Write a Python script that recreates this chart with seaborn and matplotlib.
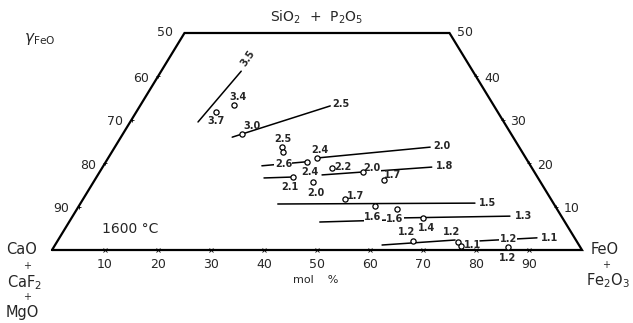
import numpy as np
import pandas as pd
import matplotlib
matplotlib.use("Agg")
import matplotlib.pyplot as plt
import seaborn as sns

# ---------------- data (compositions in mol %) ----------------
# measured points: FeO(+Fe2O3) %, SiO2(+P2O5) %, gamma label
pt_feo = [15.0, 17.6, 22.5, 31.5, 32.3, 38.0, 39.4, 37.1, 41.4, 43.4,
          49.7, 54.6, 49.4, 55.9, 60.4, 66.3, 67.1, 75.7, 76.7, 85.7]
pt_sio2 = [31.8, 33.4, 26.7, 23.7, 22.6, 20.3, 21.2, 16.8, 15.7, 18.9,
           18.0, 16.1, 11.8, 10.1, 9.4, 7.4, 2.1, 1.8, 0.9, 0.7]
pt_gamma = ["3.7", "3.4", "3.0", "2.5", "", "2.4", "2.4", "2.1", "2.0", "2.2",
            "2.0", "1.7", "1.7", "1.6", "1.6", "1.4", "1.2", "1.2", "1.1", "1.2"]

# iso-gamma lines
line_end_label = ["3.5", "2.5", "2.0", "", "1.8", "", "1.5", "", "1.3", "", "1.1"]
line_mid_label = ["", "", "", "2.6", "", "", "", "", "", "", "1.2"]
line_feo_start = [12.8, 21.0, 39.4, 29.9, 42.3, 31.7, 37.3, 47.3, 62.5, 61.7, 79.7]
line_sio2_start = [29.5, 26.0, 21.2, 19.4, 17.3, 16.6, 10.6, 6.45, 7.4, 1.15, 2.1]
line_feo_end = [15.1, 35.9, 59.5, 37.6, 62.1, 36.7, 74.4, 59.9, 82.5, 74.9, 90.1]
line_sio2_end = [41.2, 33.2, 23.7, 20.3, 19.1, 16.8, 10.8, 6.9, 7.8, 2.3, 2.8]

bottom_ticks = [10, 20, 30, 40, 50, 60, 70, 80, 90]
left_ticks = [60, 70, 80, 90]      # CaO content along left edge
right_ticks = [40, 30, 20, 10]     # SiO2 content along right edge

# ---------------- layout ----------------
pt_offsets = [(0, -9), (4, 8), (10, 8), (1, 8), (0, 0), (3, -10), (3, 8), (-3, -10),
              (3, -11), (11, 1), (9, 4), (9, 5), (10, 3), (-2, -11), (-2, -10),
              (4, -10), (-7, 9), (-6, 10), (12, 1), (-1, -11)]
pt_gap = [10, 13, 14]   # labels that break the line under them
end_offsets = [(7, 13), (11, 2), (12, 1), (0, 0), (13, 1), (0, 0), (13, 0), (0, 0),
               (14, 0), (0, 0), (13, 0)]
end_rot = [55, 0, 0, 0, 0, 0, 0, 0, 0, 0, 0]


def to_xy(feo, sio2):
    feo = np.asarray(feo, float)
    sio2 = np.asarray(sio2, float)
    return feo / 100 + sio2 / 200, sio2 / 100


sns.set_style("white")
plt.rcParams["font.family"] = ["DejaVu Sans"]

W, H = 633, 323
fig = plt.figure(figsize=(W / 100, H / 100), dpi=100)
ax = fig.add_axes([52 / W, (H - 250) / H, 530 / W, 217 / H])
ax.set_xlim(0, 1)
ax.set_ylim(0, 0.5)
ax.axis("off")

# frame (truncated triangle)
ax.plot([0, 0.25, 0.75, 1, 0], [0, 0.5, 0.5, 0, 0], color="black", lw=1.6,
        clip_on=False, solid_joinstyle="miter")

# small tick crosses on edges
bx, by = to_xy(bottom_ticks, [0] * len(bottom_ticks))
ax.plot(bx, by, "x", color="black", ms=2.5, mew=0.6, clip_on=False)
ls = [100 - c for c in left_ticks]
lx, ly = to_xy([0] * len(ls), ls)
ax.plot(lx, ly, "+", color="black", ms=3, mew=0.6, clip_on=False)
rx, ry = to_xy([100 - s for s in right_ticks], right_ticks)
ax.plot(rx, ry, "+", color="black", ms=3, mew=0.6, clip_on=False)

# lines via seaborn
rows = []
for i in range(len(line_end_label)):
    xs, ys = to_xy([line_feo_start[i], line_feo_end[i]], [line_sio2_start[i], line_sio2_end[i]])
    for x, y in zip(xs, ys):
        rows.append({"x": x, "y": y, "line": i})
df_lines = pd.DataFrame(rows)
sns.lineplot(data=df_lines, x="x", y="y", units="line", estimator=None, sort=False,
             color="black", lw=1.1, ax=ax, legend=False)

# points via seaborn
px, py = to_xy(pt_feo, pt_sio2)
df_pts = pd.DataFrame({"x": px, "y": py, "g": pt_gamma})
sns.scatterplot(data=df_pts, x="x", y="y", marker="o", s=14, facecolor="white",
                edgecolor="black", linewidth=0.9, ax=ax, zorder=6, legend=False)

lab_kw = dict(fontsize=7, ha="center", va="center", fontweight="bold",
              textcoords="offset pixels", zorder=5)
gap_box = dict(facecolor="white", edgecolor="none", pad=0.3)

for i, g in enumerate(pt_gamma):
    if g:
        ax.annotate(g, (px[i], py[i]), xytext=pt_offsets[i],
                    bbox=gap_box if i in pt_gap else None, **lab_kw)

for i in range(len(line_end_label)):
    xs, ys = to_xy([line_feo_start[i], line_feo_end[i]], [line_sio2_start[i], line_sio2_end[i]])
    if line_end_label[i]:
        ax.annotate(line_end_label[i], (xs[1], ys[1]), xytext=end_offsets[i],
                    rotation=end_rot[i], **lab_kw)
    if line_mid_label[i]:
        ax.annotate(line_mid_label[i], (xs.mean(), ys.mean()), xytext=(0, 0),
                    bbox=gap_box, **lab_kw)

# axis labels on edges
for v, x, y in zip(bottom_ticks, bx, by):
    ax.annotate(str(v), (x, y), xytext=(0, -14), textcoords="offset pixels",
                ha="center", va="center", fontsize=9)
for v, x, y in zip(left_ticks, lx, ly):
    ax.annotate(str(v), (x, y), xytext=(-17, -2), textcoords="offset pixels",
                ha="center", va="center", fontsize=9)
for v, x, y in zip(right_ticks, rx, ry):
    ax.annotate(str(v), (x, y), xytext=(16, -2), textcoords="offset pixels",
                ha="center", va="center", fontsize=9)
tlx, tly = to_xy([0], [50])
trx, try_ = to_xy([50], [50])
ax.annotate("50", (tlx[0], tly[0]), xytext=(-19, 1), textcoords="offset pixels",
            ha="center", va="center", fontsize=9)
ax.annotate("50", (trx[0], try_[0]), xytext=(16, 1), textcoords="offset pixels",
            ha="center", va="center", fontsize=9)


def ftext(x, y, s, **kw):
    fig.text(x / W, 1 - y / H, s, ha="center", va="center", **kw)


ftext(317, 17, r"SiO$_2$  +  P$_2$O$_5$", fontsize=10)
ftext(40, 39, r"$\mathit{\gamma}_{\mathrm{FeO}}$", fontsize=11)
ftext(316, 280, "mol    %", fontsize=8)
ftext(130, 229, "1600 °C", fontsize=10)
ftext(22, 250, "CaO", fontsize=10.5)
ftext(27, 266, "+", fontsize=7)
ftext(25, 283, r"CaF$_2$", fontsize=10.5)
ftext(27, 297, "+", fontsize=7)
ftext(22, 312, "MgO", fontsize=10.5)
ftext(605, 250, "FeO", fontsize=10.5)
ftext(606, 265, "+", fontsize=7)
ftext(608, 281, r"Fe$_2$O$_3$", fontsize=10.5)

fig.savefig("out.png", dpi=100)
